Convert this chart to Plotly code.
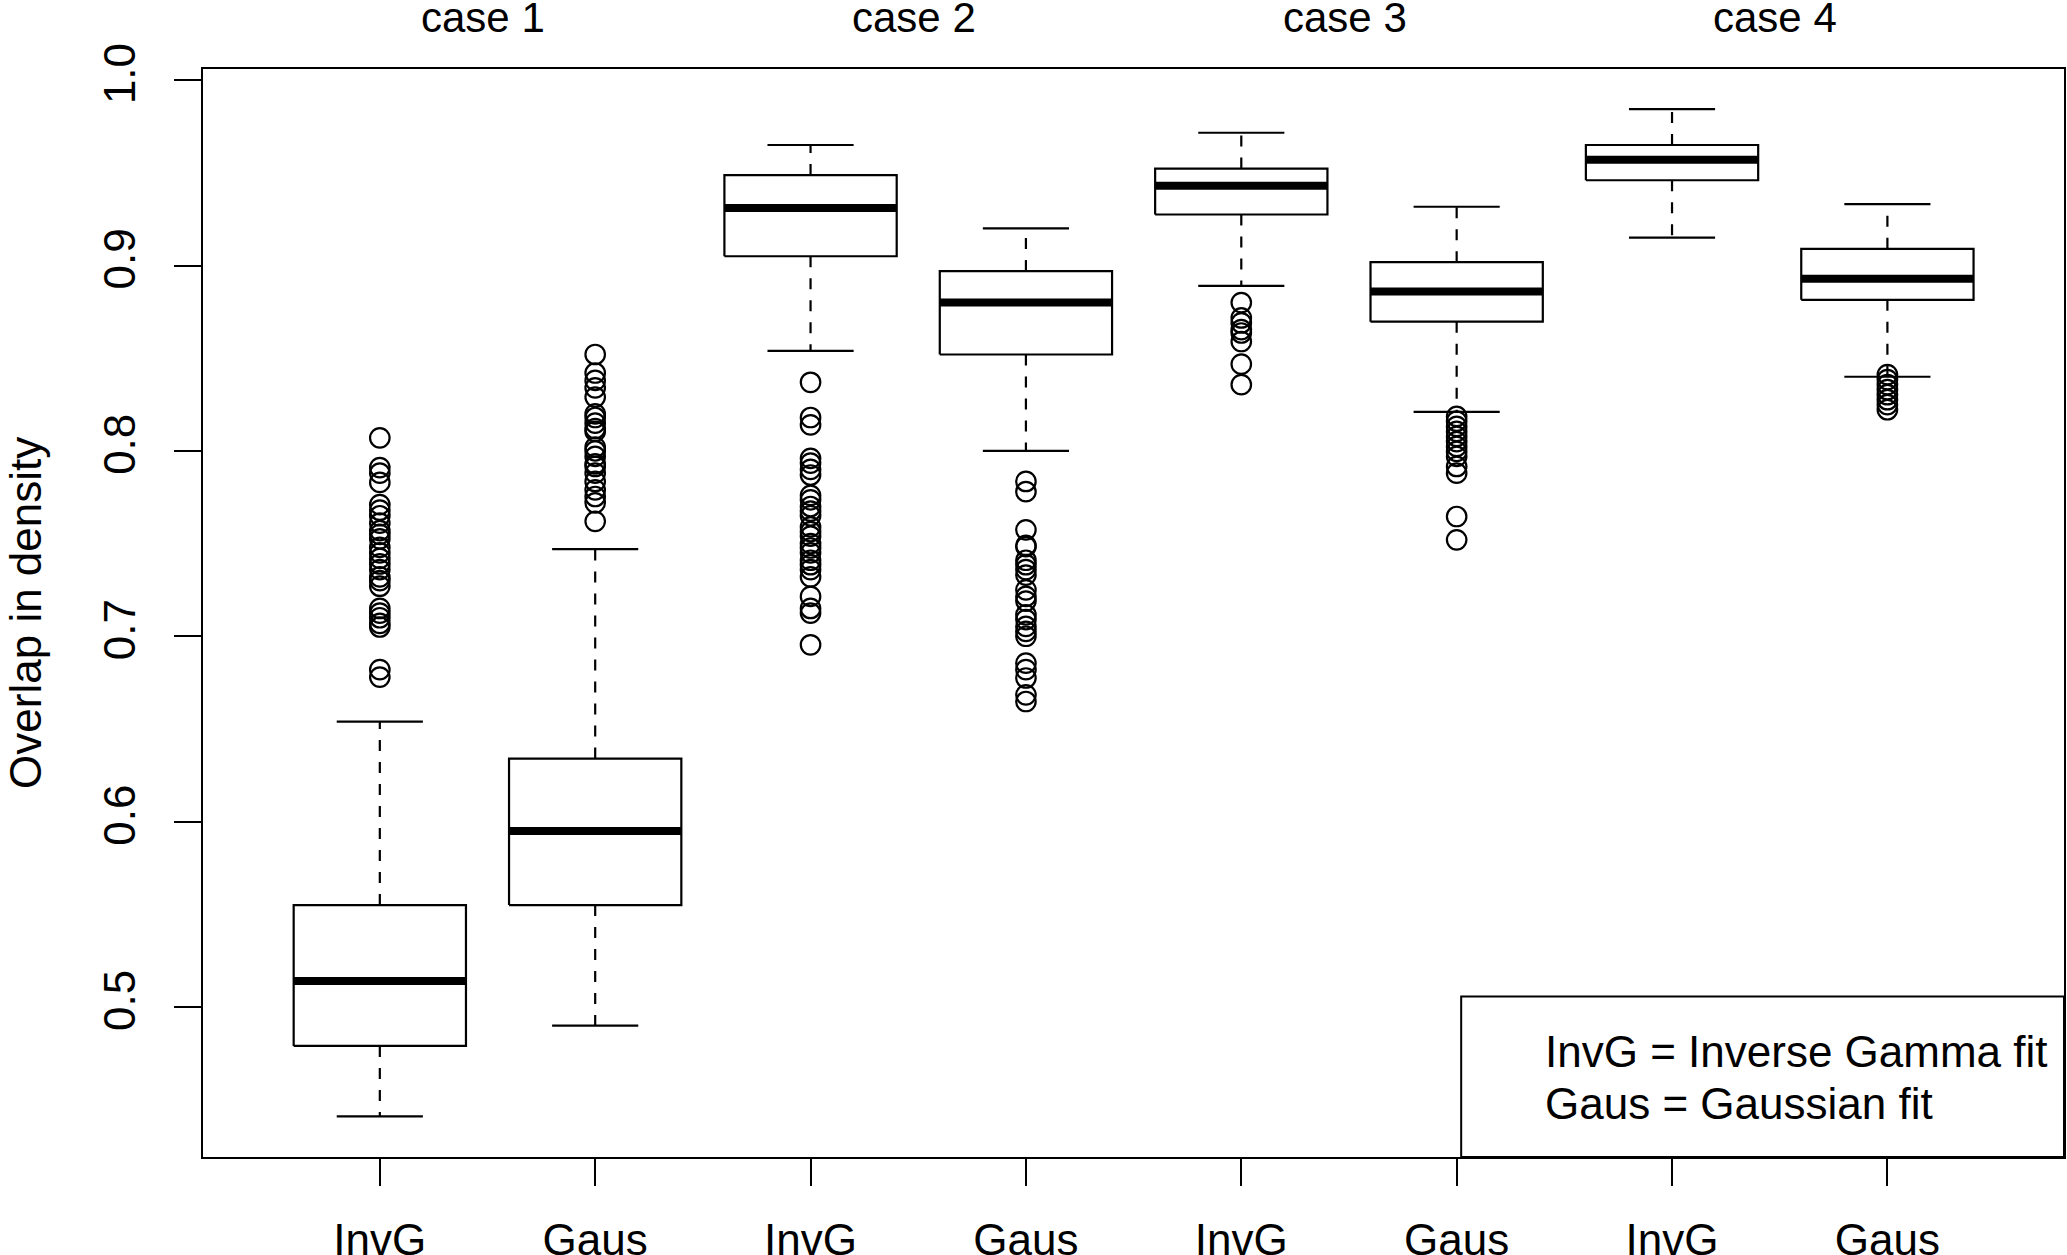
import plotly.graph_objects as go

# ---------------- data ----------------
categories = ["InvG", "Gaus", "InvG", "Gaus", "InvG", "Gaus", "InvG", "Gaus"]
case_labels = ["case 1", "case 2", "case 3", "case 4"]

lower_whisker = [0.441, 0.490, 0.854, 0.800, 0.889, 0.821, 0.915, 0.840]
q1 = [0.479, 0.555, 0.905, 0.852, 0.9275, 0.8697, 0.946, 0.8815]
median = [0.514, 0.595, 0.931, 0.880, 0.943, 0.886, 0.957, 0.8928]
q3 = [0.555, 0.634, 0.9488, 0.897, 0.9523, 0.9018, 0.965, 0.909]
upper_whisker = [0.654, 0.747, 0.965, 0.920, 0.9716, 0.9317, 0.9844, 0.9331]

outliers_invg1 = [0.807, 0.791, 0.788, 0.783, 0.771, 0.768, 0.765, 0.761, 0.757,
                  0.755, 0.7525, 0.748, 0.745, 0.742, 0.739, 0.736, 0.732, 0.730,
                  0.727, 0.715, 0.7125, 0.710, 0.707, 0.705, 0.682, 0.678]
outliers_gaus1 = [0.852, 0.842, 0.838, 0.834, 0.829, 0.820, 0.818, 0.815, 0.812,
                  0.8105, 0.802, 0.800, 0.797, 0.793, 0.7916, 0.788, 0.7835, 0.779,
                  0.7754, 0.772, 0.762]
outliers_invg2 = [0.837, 0.818, 0.814, 0.796, 0.7934, 0.790, 0.787, 0.776, 0.7736,
                  0.770, 0.7675, 0.765, 0.759, 0.7565, 0.754, 0.750, 0.7476, 0.745,
                  0.741, 0.7386, 0.736, 0.732, 0.7215, 0.715, 0.7125, 0.6954]
outliers_gaus2 = [0.7835, 0.778, 0.7574, 0.749, 0.7484, 0.741, 0.7386, 0.736, 0.733,
                  0.725, 0.7215, 0.719, 0.7116, 0.709, 0.7053, 0.7026, 0.700, 0.6855,
                  0.682, 0.6775, 0.6684, 0.6648]
outliers_invg3 = [0.880, 0.8717, 0.869, 0.8654, 0.8636, 0.859, 0.8468, 0.8357]
outliers_gaus3 = [0.8186, 0.816, 0.8132, 0.8105, 0.8078, 0.805, 0.8024, 0.7997,
                  0.797, 0.7916, 0.788, 0.7646, 0.752]
outliers_invg4 = []
outliers_gaus4 = [0.8411, 0.8384, 0.8357, 0.833, 0.8303, 0.8276, 0.825, 0.8222]

outliers = [outliers_invg1, outliers_gaus1, outliers_invg2, outliers_gaus2,
            outliers_invg3, outliers_gaus3, outliers_invg4, outliers_gaus4]

legend_lines = ["InvG = Inverse Gamma fit", "Gaus = Gaussian fit"]
y_title = "Overlap in density"
y_ticks = [0.5, 0.6, 0.7, 0.8, 0.9, 1.0]

# ---------------- style ----------------
FONT = "Liberation Sans, Arial, Helvetica, sans-serif"
FS = 44
BOX_HALF = 0.4
STAPLE_HALF = 0.2
XR = [0.179, 8.82]
YR = [0.4191, 1.006]

positions = list(range(1, len(categories) + 1))

box_x, box_y = [], []
med_x, med_y = [], []
wh_x, wh_y = [], []
st_x, st_y = [], []
out_x, out_y = [], []
for i, p in enumerate(positions):
    box_x += [p - BOX_HALF, p + BOX_HALF, p + BOX_HALF, p - BOX_HALF, p - BOX_HALF, None]
    box_y += [q1[i], q1[i], q3[i], q3[i], q1[i], None]
    med_x += [p - BOX_HALF, p + BOX_HALF, None]
    med_y += [median[i], median[i], None]
    wh_x += [p, p, None, p, p, None]
    wh_y += [q3[i], upper_whisker[i], None, q1[i], lower_whisker[i], None]
    st_x += [p - STAPLE_HALF, p + STAPLE_HALF, None, p - STAPLE_HALF, p + STAPLE_HALF, None]
    st_y += [upper_whisker[i], upper_whisker[i], None, lower_whisker[i], lower_whisker[i], None]
    out_x += [p] * len(outliers[i])
    out_y += outliers[i]

fig = go.Figure()
fig.add_trace(go.Scatter(x=wh_x, y=wh_y, mode="lines",
                         line=dict(color="black", width=2.2, dash="11px,11px"),
                         hoverinfo="skip", showlegend=False))
fig.add_trace(go.Scatter(x=st_x, y=st_y, mode="lines",
                         line=dict(color="black", width=2.2),
                         hoverinfo="skip", showlegend=False))
fig.add_trace(go.Scatter(x=box_x, y=box_y, mode="lines",
                         line=dict(color="black", width=2.2),
                         hoverinfo="skip", showlegend=False))
fig.add_trace(go.Scatter(x=med_x, y=med_y, mode="lines",
                         line=dict(color="black", width=8),
                         hoverinfo="skip", showlegend=False))
fig.add_trace(go.Scatter(x=out_x, y=out_y, mode="markers",
                         marker=dict(symbol="circle-open", size=19.5, color="black",
                                     line=dict(width=2.2, color="black")),
                         showlegend=False))

# legend box (R-style legend at bottom right)
fig.add_shape(type="rect", xref="x", yref="y", x0=6.021, x1=XR[1], y0=YR[0], y1=0.5057,
              line=dict(color="black", width=2), fillcolor="white", layer="below")
for txt, yv in zip(legend_lines, [0.4758, 0.4478]):
    fig.add_annotation(x=6.40, y=yv, xref="x", yref="y", text=txt, showarrow=False,
                       xanchor="left", yanchor="middle",
                       font=dict(family=FONT, size=FS, color="black"))

# case labels above plot
for k, lab in enumerate(case_labels):
    xc = (positions[2 * k] + positions[2 * k + 1]) / 2
    fig.add_annotation(x=xc - 0.02, y=1.047, xref="x", yref="paper", text=lab,
                       showarrow=False, xanchor="center", yanchor="middle",
                       font=dict(family=FONT, size=FS - 2, color="black"))

# y-axis title (placed like R's mtext on side 2)
fig.add_annotation(x=-0.0957, y=0.5, xref="paper", yref="paper", text=y_title,
                   showarrow=False, textangle=-90, xanchor="center", yanchor="middle",
                   font=dict(family=FONT, size=FS, color="black"))

fig.update_layout(
    width=2067, height=1255,
    margin=dict(l=203, r=3, t=69, b=98, autoexpand=False),
    paper_bgcolor="white", plot_bgcolor="white",
    font=dict(family=FONT, size=FS, color="black"),
    showlegend=False,
)
fig.update_xaxes(range=XR, tickmode="array", tickvals=positions, ticktext=categories,
                 ticks="outside", ticklen=27, tickwidth=2, tickcolor="black",
                 showline=True, linecolor="black", linewidth=2, mirror=True,
                 showgrid=False, zeroline=False, ticklabelstandoff=16,
                 tickfont=dict(family=FONT, size=FS, color="black"))
fig.update_yaxes(range=YR, tickmode="array", tickvals=y_ticks,
                 ticktext=[f"{v:.1f}" for v in y_ticks], tickangle=-90,
                 ticks="outside", ticklen=27, tickwidth=2, tickcolor="black",
                 showline=True, linecolor="black", linewidth=2, mirror=True,
                 showgrid=False, zeroline=False, ticklabelstandoff=21,
                 tickfont=dict(family=FONT, size=FS, color="black"))

fig.write_html("out.html", config={"displayModeBar": False},
               post_script="document.body.style.margin='0';document.body.style.padding='0';")
